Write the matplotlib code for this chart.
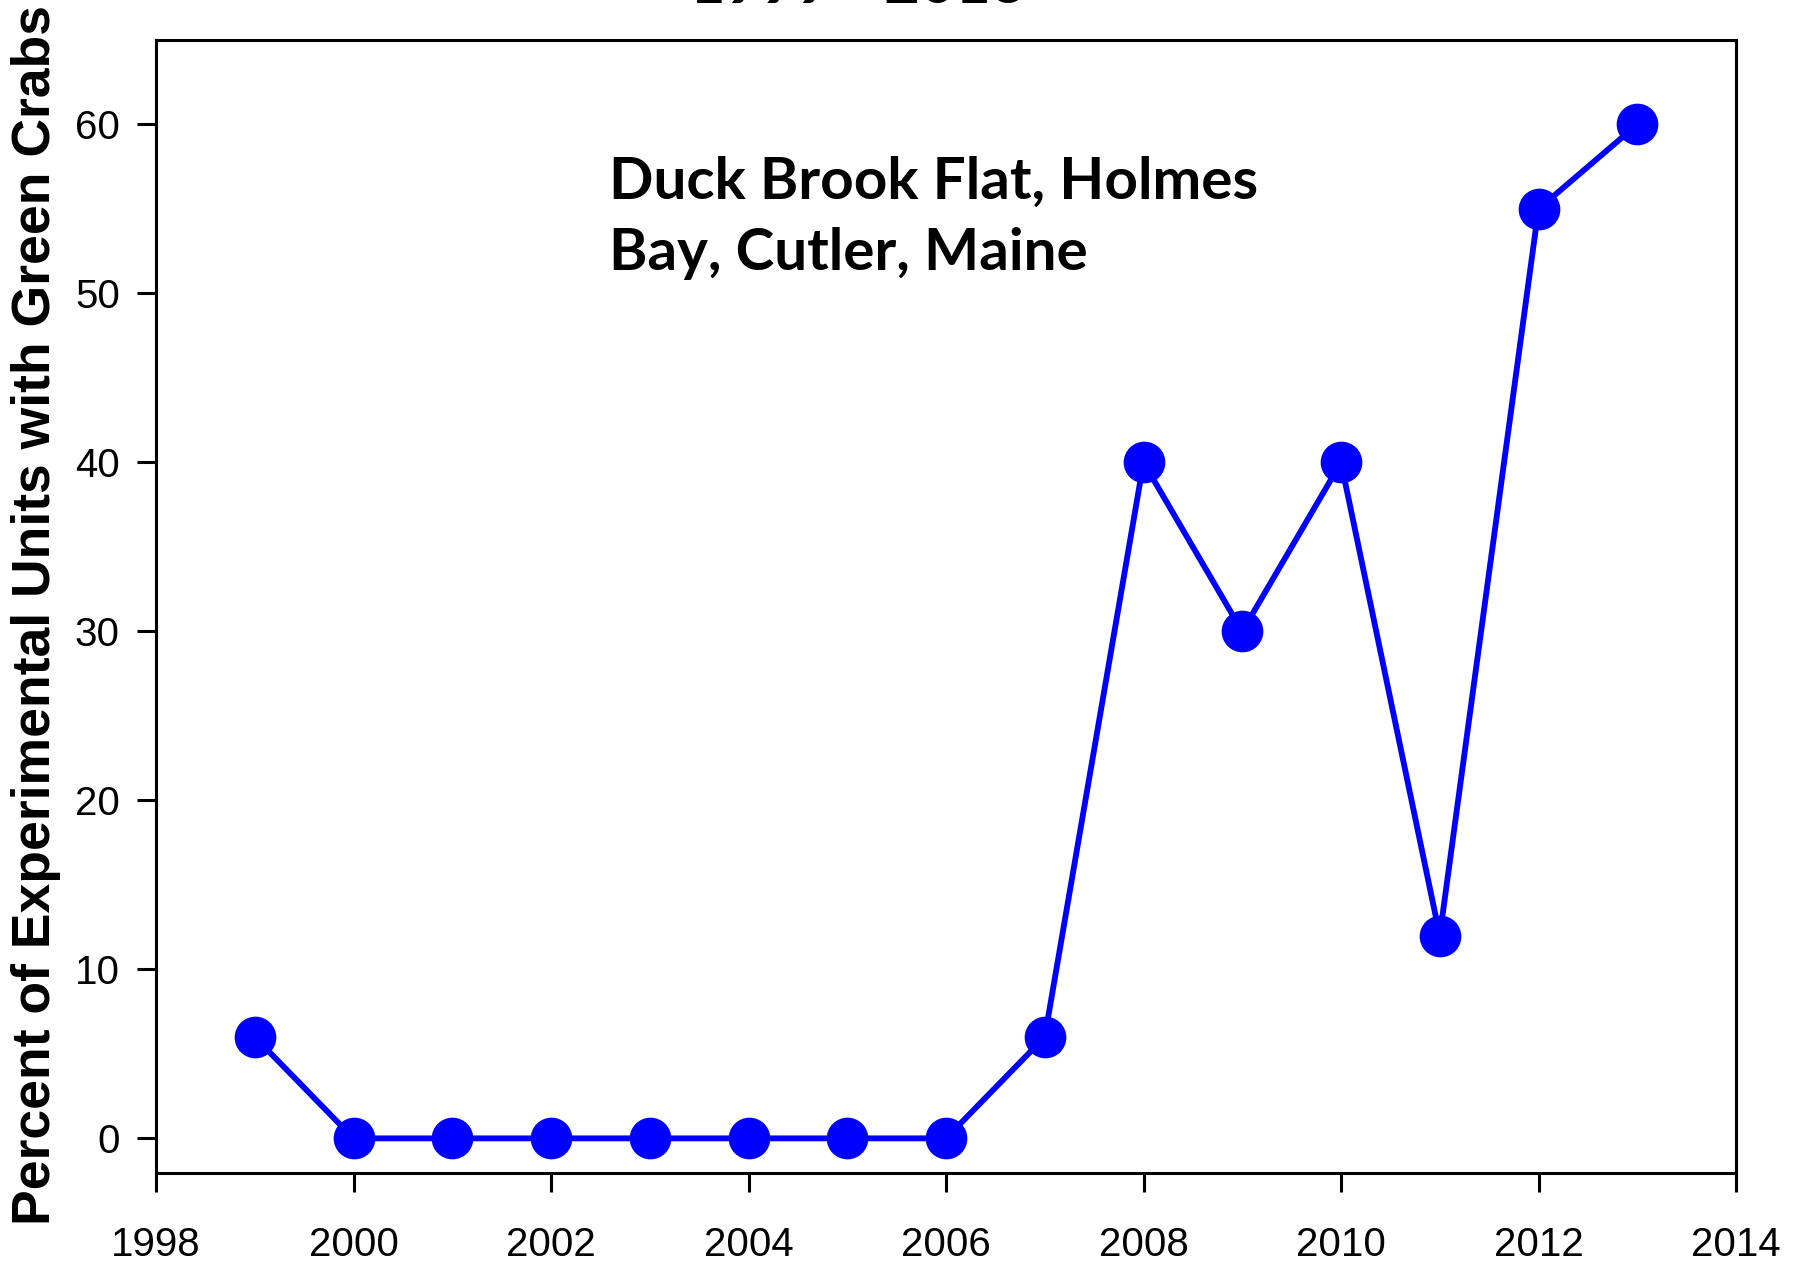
import matplotlib
matplotlib.use('Agg')
from matplotlib import pyplot as plt

#  survey years and percent of units with green crabs
years = [1999, 2000, 2001, 2002, 2003, 2004, 2005, 2006, 2007, 2008, 2009, 2010, 2011, 2012, 2013]
percent = [6, 0, 0, 0, 0, 0, 0, 0, 6, 40, 30, 40, 12, 55, 60]

x_ticks = [1998, 2000, 2002, 2004, 2006, 2008, 2010, 2012, 2014]
y_ticks = [0, 10, 20, 30, 40, 50, 60]

site_label = 'Duck Brook Flat, Holmes\nBay, Cutler, Maine'
title = '1999 - 2013'

plt.rcParams['font.family'] = ['Liberation Sans', 'DejaVu Sans']

fig = plt.figure(figsize=(18.02, 12.63), dpi=100)
ax = fig.add_axes([156 / 1802, 1 - 1173 / 1263, (1736 - 156) / 1802, (1173 - 40) / 1263])

ax.plot(years, percent, color='#0000ff', lw=4.2, marker='o', ms=29, zorder=3)

ax.set_xlim(1998, 2014)
ax.set_ylim(-2.05, 65)
ax.set_xticks(x_ticks)
ax.set_yticks(y_ticks)
ax.tick_params(axis='both', direction='out', length=14, width=2.2, labelsize=29)
ax.tick_params(axis='x', pad=24)
ax.tick_params(axis='y', pad=12)
for s in ax.spines.values():
    s.set_linewidth(2.2)

ax.set_ylabel('Percent of Experimental Units with Green Crabs', fontsize=38.5,
              fontweight='bold')
ax.yaxis.set_label_coords(-0.060, 0.4925)

fig.text(609 / 1802, 1 - 156 / 1263, site_label, family=['Lato', 'DejaVu Sans'],
         fontweight='bold', fontsize=42, va='top', ha='left', linespacing=1.42)

#  title sits mostly above the top edge
fig.text(0.476, 1 - 3 / 1263, title, family=['Lato', 'DejaVu Sans'], fontweight='bold',
         fontsize=44, ha='center', va='baseline')

fig.savefig('out.png', dpi=100)
